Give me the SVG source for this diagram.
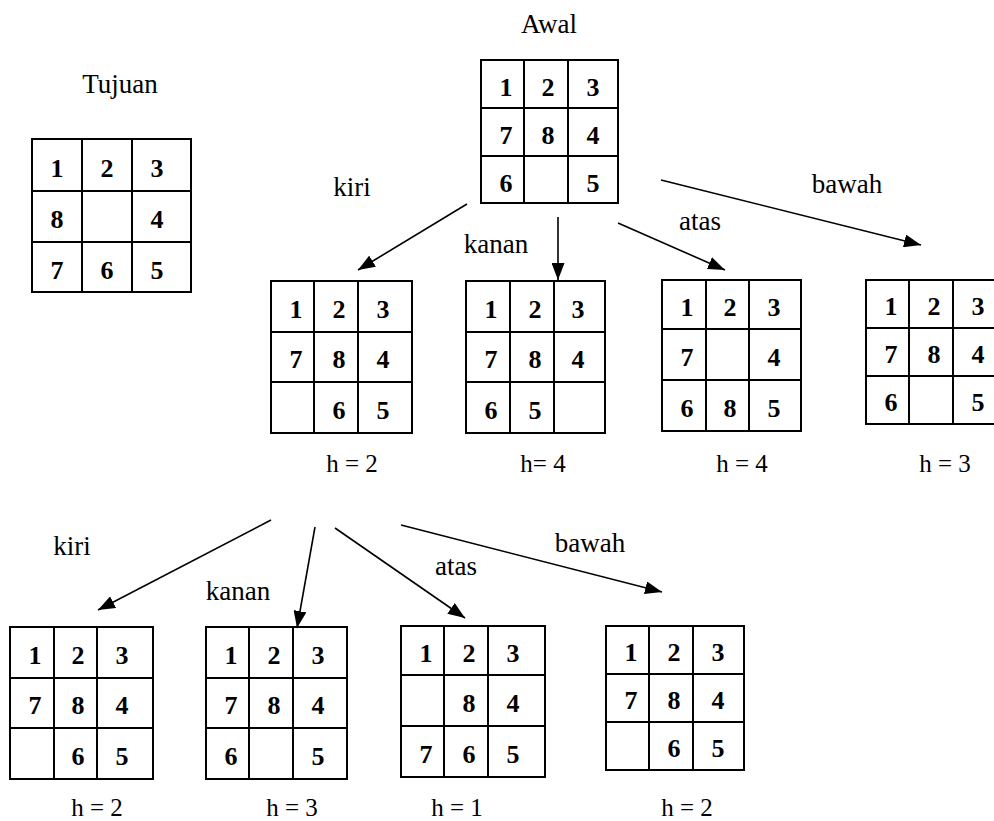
<svg xmlns="http://www.w3.org/2000/svg" width="994" height="821" viewBox="0 0 994 821">
<style>
.g{fill:none;stroke:#000;stroke-width:2}
.d{font-family:'Liberation Serif','DejaVu Serif','Noto Serif',serif;font-weight:bold;font-size:26px;text-anchor:middle;fill:#000}
.t{font-family:'Liberation Serif','DejaVu Serif','Noto Serif',serif;font-size:27px;text-anchor:middle;fill:#000}
.h{font-family:'Liberation Serif','DejaVu Serif','Noto Serif',serif;font-size:25px;text-anchor:middle;fill:#000}
.c{stroke:#000;stroke-width:1.6;fill:none;marker-end:url(#ah)}
</style>
<defs>
<marker id="ah" markerUnits="userSpaceOnUse" markerWidth="17" markerHeight="13" refX="17" refY="6.5" orient="auto">
<path d="M0,0 L17,6.5 L0,13 z" fill="#000"/>
</marker>
</defs>
<rect width="994" height="821" fill="#fff"/>

<g id="tujuan">
<text class="t" x="120" y="93">Tujuan</text>
<path class="g" d="M32,139H191V292H32Z M82,139V292 M132,139V292 M32,191H191 M32,242H191"/>
<text class="d" x="57" y="177">1</text><text class="d" x="107" y="177">2</text><text class="d" x="157" y="177">3</text>
<text class="d" x="57" y="228">8</text><text class="d" x="157" y="228">4</text>
<text class="d" x="57" y="279">7</text><text class="d" x="107" y="279">6</text><text class="d" x="157" y="279">5</text>
</g>

<g id="awal">
<text class="t" x="549" y="33">Awal</text>
<path class="g" d="M481,60H618V203H481Z M524,60V203 M568,60V203 M481,108H618 M481,156H618"/>
<text class="d" x="506" y="96">1</text><text class="d" x="548" y="96">2</text><text class="d" x="593" y="96">3</text>
<text class="d" x="506" y="144">7</text><text class="d" x="548" y="144">8</text><text class="d" x="593" y="144">4</text>
<text class="d" x="506" y="192">6</text><text class="d" x="593" y="192">5</text>
</g>

<g id="n-kiri1">
<path class="g" d="M271,281H412V433H271Z M314,281V433 M358,281V433 M271,332H412 M271,382H412"/>
<text class="d" x="296" y="318">1</text><text class="d" x="339" y="318">2</text><text class="d" x="383" y="318">3</text>
<text class="d" x="296" y="368">7</text><text class="d" x="339" y="368">8</text><text class="d" x="383" y="368">4</text>
<text class="d" x="339" y="419">6</text><text class="d" x="383" y="419">5</text>
<text class="h" x="352" y="472">h = 2</text>
</g>

<g id="n-kanan1">
<path class="g" d="M466,281H605V433H466Z M510,281V433 M554,281V433 M466,332H605 M466,382H605"/>
<text class="d" x="491" y="318">1</text><text class="d" x="535" y="318">2</text><text class="d" x="578" y="318">3</text>
<text class="d" x="491" y="368">7</text><text class="d" x="535" y="368">8</text><text class="d" x="578" y="368">4</text>
<text class="d" x="491" y="419">6</text><text class="d" x="535" y="419">5</text>
<text class="h" x="543" y="472">h= 4</text>
</g>

<g id="n-atas1">
<path class="g" d="M662,280H801V431H662Z M706,280V431 M749,280V431 M662,329H801 M662,380H801"/>
<text class="d" x="687" y="316">1</text><text class="d" x="730" y="316">2</text><text class="d" x="774" y="316">3</text>
<text class="d" x="687" y="366">7</text><text class="d" x="774" y="366">4</text>
<text class="d" x="687" y="417">6</text><text class="d" x="730" y="417">8</text><text class="d" x="774" y="417">5</text>
<text class="h" x="742" y="472">h = 4</text>
</g>

<g id="n-bawah1">
<path class="g" d="M866,280H998V424H866Z M909,280V424 M953,280V424 M866,328H998 M866,376H998"/>
<text class="d" x="891" y="315">1</text><text class="d" x="934" y="315">2</text><text class="d" x="978" y="315">3</text>
<text class="d" x="891" y="363">7</text><text class="d" x="934" y="363">8</text><text class="d" x="978" y="363">4</text>
<text class="d" x="891" y="411">6</text><text class="d" x="978" y="411">5</text>
<text class="h" x="945" y="472">h = 3</text>
</g>

<g id="n-kiri2">
<path class="g" d="M10,627H153V779H10Z M54,627V779 M97,627V779 M10,678H153 M10,728H153"/>
<text class="d" x="35" y="664">1</text><text class="d" x="78" y="664">2</text><text class="d" x="122" y="664">3</text>
<text class="d" x="35" y="714">7</text><text class="d" x="78" y="714">8</text><text class="d" x="122" y="714">4</text>
<text class="d" x="78" y="765">6</text><text class="d" x="122" y="765">5</text>
<text class="h" x="97" y="816">h = 2</text>
</g>

<g id="n-kanan2">
<path class="g" d="M206,627H347V779H206Z M249,627V779 M293,627V779 M206,678H347 M206,728H347"/>
<text class="d" x="231" y="664">1</text><text class="d" x="274" y="664">2</text><text class="d" x="318" y="664">3</text>
<text class="d" x="231" y="714">7</text><text class="d" x="274" y="714">8</text><text class="d" x="318" y="714">4</text>
<text class="d" x="231" y="765">6</text><text class="d" x="318" y="765">5</text>
<text class="h" x="292" y="816">h = 3</text>
</g>

<g id="n-atas2">
<path class="g" d="M401,626H545V777H401Z M444,626V777 M488,626V777 M401,675H545 M401,726H545"/>
<text class="d" x="426" y="662">1</text><text class="d" x="469" y="662">2</text><text class="d" x="513" y="662">3</text>
<text class="d" x="469" y="712">8</text><text class="d" x="513" y="712">4</text>
<text class="d" x="426" y="763">7</text><text class="d" x="469" y="763">6</text><text class="d" x="513" y="763">5</text>
<text class="h" x="457" y="816">h = 1</text>
</g>

<g id="n-bawah2">
<path class="g" d="M606,626H744V770H606Z M649,626V770 M693,626V770 M606,674H744 M606,722H744"/>
<text class="d" x="631" y="661">1</text><text class="d" x="674" y="661">2</text><text class="d" x="718" y="661">3</text>
<text class="d" x="631" y="709">7</text><text class="d" x="674" y="709">8</text><text class="d" x="718" y="709">4</text>
<text class="d" x="674" y="757">6</text><text class="d" x="718" y="757">5</text>
<text class="h" x="687" y="816">h = 2</text>
</g>

<g id="connectors">
<line class="c" x1="467" y1="204" x2="358" y2="270"/>
<line class="c" x1="558" y1="217" x2="558" y2="280"/>
<line class="c" x1="618" y1="223" x2="725" y2="270"/>
<line class="c" x1="661" y1="180" x2="921" y2="245"/>
<line class="c" x1="271" y1="520" x2="98" y2="610"/>
<line class="c" x1="315" y1="527" x2="297" y2="628"/>
<line class="c" x1="335" y1="528" x2="465" y2="618"/>
<line class="c" x1="401" y1="525" x2="662" y2="592"/>
</g>

<g id="labels">
<text class="t" x="352" y="196">kiri</text>
<text class="t" x="496" y="253">kanan</text>
<text class="t" x="700" y="230">atas</text>
<text class="t" x="847" y="193">bawah</text>
<text class="t" x="72" y="555">kiri</text>
<text class="t" x="238" y="600">kanan</text>
<text class="t" x="456" y="575">atas</text>
<text class="t" x="590" y="552">bawah</text>
</g>
</svg>
